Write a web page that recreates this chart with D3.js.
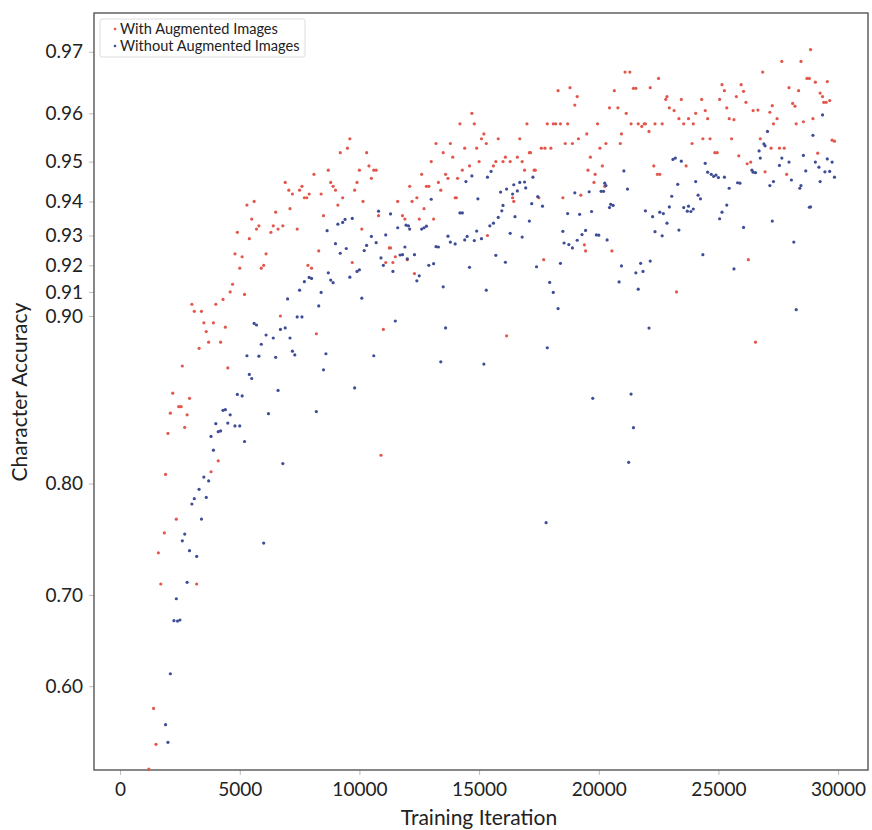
<!DOCTYPE html>
<html>
<head>
<meta charset="utf-8">
<script src="https://cdn.jsdelivr.net/npm/d3@7"></script>
<style>
  body { margin: 0; background: #fff; }
  svg text { font-family: Lato, "Open Sans", sans-serif; fill: #222; }
</style>
</head>
<body>
<svg class="chart" width="872" height="830"></svg>
<script>
// red series: with augmented images
const withIter = [1200,1400,1500,1600,1700,1850,1900,2000,2100,2200,2350,2450,2550,2600,2700,2800,2900,3000,3100,3200,3300,3400,3500,3600,3700,3800,3900,4000,4100,4200,4300,4400,4500,4600,4700,4800,4900,5000,5100,5200,5300,5400,5500,5600,5700,5800,5900,6000,6100,6300,6400,6500,6600,6700,6800,6900,7050,7100,7200,7400,7500,7600,7700,7800,7850,7900,8000,8100,8200,8300,8400,8500,8700,8800,8900,9000,9100,9200,9300,9500,9600,9700,9800,9900,10000,10100,10150,10300,10400,10500,10600,10700,10800,10900,11000,11100,11250,11300,11400,11500,11600,11800,11900,12000,12100,12200,12300,12400,12500,12600,12700,12800,12900,13000,13100,13200,13300,13400,13500,13600,13700,13800,13900,14000,14050,14100,14200,14300,14400,14600,14700,14800,14900,15000,15100,15200,15300,15350,15600,15700,15800,16000,16100,16150,16300,16400,16450,16600,16700,16800,16900,17000,17100,17150,17300,17350,17500,17600,17700,17750,17850,18000,18100,18200,18300,18400,18500,18600,18700,18800,18900,19000,19100,19150,19250,19400,19450,19500,19550,19650,19800,19850,19950,20050,20150,20250,20300,20450,20550,20650,20800,20900,20950,21100,21150,21300,21350,21450,21550,21650,21800,21900,21950,22100,22150,22300,22350,22450,22500,22550,22650,22800,22850,22950,23150,23250,23350,23450,23550,23650,23750,23900,23950,24050,24300,24350,24450,24550,24650,24850,24950,25050,25150,25250,25350,25450,25550,25650,25750,25850,25950,26050,26150,26200,26250,26350,26450,26550,26650,26750,26850,26950,27150,27200,27250,27300,27450,27550,27650,27750,27850,27950,28100,28200,28250,28350,28450,28550,28700,28800,28850,28950,29050,29150,29250,29350,29400,29500,29550,29650,29750,29850];
const withAcc = [.501,.574,.531,.741,.711,.759,.807,.836,.849,.861,.771,.853,.853,.876,.840,.848,.858,.905,.902,.711,.885,.902,.897,.893,.888,.809,.897,.905,.817,.888,.907,.895,.875,.910,.913,.924,.931,.919,.923,.909,.939,.929,.935,.940,.932,.933,.919,.920,.924,.931,.933,.937,.932,.900,.933,.945,.943,.938,.942,.932,.943,.944,.941,.941,.920,.942,.919,.947,.892,.925,.942,.936,.948,.945,.944,.943,.939,.952,.941,.953,.955,.921,.943,.945,.948,.932,.940,.952,.949,.946,.948,.948,.936,.821,.894,.921,.926,.926,.921,.923,.940,.936,.935,.922,.944,.940,.917,.941,.935,.947,.938,.944,.944,.950,.935,.954,.945,.943,.952,.947,.946,.954,.951,.941,.941,.946,.958,.948,.953,.949,.960,.958,.953,.950,.955,.956,.954,.930,.949,.950,.955,.950,.951,.891,.950,.941,.940,.951,.955,.950,.948,.958,.952,.952,.948,.948,.941,.953,.922,.953,.958,.953,.958,.958,.964,.958,.941,.954,.958,.9645,.954,.9615,.963,.955,.9417,.927,.925,.956,.948,.951,.945,.947,.958,.953,.949,.944,.954,.961,.925,.964,.961,.954,.956,.967,.960,.967,.958,.9644,.9644,.958,.9575,.958,.958,.9565,.9645,.949,.958,.947,.966,.947,.958,.9625,.963,.961,.9605,.910,.959,.9625,.958,.949,.959,.954,.958,.960,.9625,.955,.9605,.959,.955,.952,.952,.9625,.965,.964,.961,.959,.955,.9588,.963,.9513,.965,.9639,.962,.9495,.922,.9499,.9605,.888,.9606,.955,.967,.9476,.9602,.953,.9614,.958,.959,.953,.9686,.953,.947,.9645,.9618,.9613,.958,.964,.9686,.9584,.966,.966,.9703,.959,.9654,.9519,.9636,.963,.962,.962,.9655,.9623,.9547,.9545];

// blue series: without augmented images
const withoutIter = [1900,2000,2100,2250,2350,2400,2500,2600,2700,2800,2900,3000,3100,3200,3300,3400,3500,3600,3700,3800,3900,4000,4100,4200,4300,4400,4500,4600,4800,4900,5000,5100,5200,5300,5400,5500,5600,5700,5800,5900,6000,6100,6200,6400,6500,6600,6700,6800,6900,7000,7100,7200,7300,7400,7500,7600,7700,7900,8000,8200,8300,8400,8500,8600,8650,8700,8800,8900,9000,9100,9200,9300,9400,9450,9600,9700,9800,9900,10000,10100,10200,10300,10500,10600,10700,10800,10900,11000,11100,11300,11400,11500,11600,11700,11800,11900,11950,12000,12050,12100,12300,12400,12500,12600,12700,12800,12900,13000,13100,13200,13300,13400,13500,13600,13700,13800,14000,14200,14300,14400,14450,14500,14600,14700,14800,14900,14950,15100,15200,15300,15350,15450,15500,15600,15700,15800,15900,15950,16000,16100,16150,16300,16400,16450,16500,16600,16700,16800,16900,16950,17100,17200,17250,17400,17450,17650,17800,17850,17950,18100,18300,18400,18500,18550,18700,18750,18900,19000,19100,19200,19300,19450,19600,19700,19750,19900,20000,20100,20200,20250,20300,20350,20450,20500,20600,20850,20950,21050,21200,21250,21350,21450,21550,21650,21750,21850,21950,22100,22150,22250,22350,22550,22650,22700,22850,22950,23050,23100,23200,23300,23350,23450,23550,23700,23750,23850,23950,24050,24150,24250,24350,24450,24550,24700,24800,24900,25000,25050,25150,25250,25350,25450,25650,25800,25900,26050,26400,26450,26550,26700,26750,26900,26950,27050,27150,27250,27300,27550,27650,27950,28050,28150,28250,28400,28450,28550,28650,28800,28850,28950,29050,29200,29250,29350,29450,29550,29650,29750,29850];
const withoutAcc = [.5546,.5334,.6144,.6732,.6961,.6728,.6739,.752,.758,.7126,.743,.7837,.788,.7376,.7955,.7711,.805,.789,.802,.834,.8246,.8424,.8372,.8377,.8508,.8512,.8428,.848,.8409,.8603,.8409,.8594,.8306,.8813,.8715,.8693,.8967,.8960,.8811,.887,.7499,.8914,.8487,.8900,.8805,.8626,.8940,.815,.8947,.9072,.8900,.8836,.8817,.8996,.9107,.8996,.914,.9156,.9152,.850,.9043,.9098,.874,.8823,.9315,.9173,.9146,.9136,.9274,.9335,.9242,.934,.9349,.9258,.9157,.9352,.864,.9178,.9184,.9075,.9251,.9268,.9297,.8813,.9277,.9373,.9226,.920,.9302,.9365,.9178,.8978,.9324,.9236,.9237,.9263,.9332,.9223,.933,.932,.9237,.9143,.9162,.932,.9324,.9329,.9200,.9406,.9206,.9264,.9263,.8782,.912,.8947,.9298,.9279,.9273,.9368,.9368,.9286,.9452,.9297,.9193,.9466,.9284,.9314,.9407,.929,.877,.9107,.9463,.933,.9477,.9338,.9235,.9355,.9425,.9374,.9389,.9211,.9433,.9307,.942,.9444,.9357,.9428,.945,.9295,.9451,.9436,.9344,.9394,.9463,.9195,.9413,.9387,.768,.8853,.9137,.9098,.9032,.9207,.9313,.9276,.9366,.9271,.926,.9423,.9285,.9364,.9303,.9316,.9426,.9372,.858,.9302,.9301,.9427,.9427,.9448,.9442,.9286,.9383,.9392,.9389,.9139,.9198,.9478,.9433,.8159,.8605,.8398,.9173,.9111,.9207,.9178,.9374,.8946,.9215,.9357,.9312,.937,.9299,.9366,.9338,.9385,.9414,.9505,.9508,.9445,.9317,.9501,.9383,.9373,.9387,.9372,.9379,.9452,.9417,.9407,.9237,.9496,.9475,.947,.9465,.9468,.9462,.9351,.937,.9463,.939,.9435,.9187,.9449,.9448,.9325,.948,.9475,.9474,.9524,.9508,.9539,.9535,.9565,.9442,.9344,.9452,.9491,.9508,.9499,.9456,.9279,.9027,.9435,.9442,.9514,.9478,.9384,.9385,.9557,.9499,.9487,.9452,.9597,.9476,.9506,.9477,.9499,.9463];

const xTicks = [0, 5000, 10000, 15000, 20000, 25000, 30000];
const yTicks = [0.6, 0.7, 0.8, 0.9, 0.91, 0.92, 0.93, 0.94, 0.95, 0.96, 0.97];
const yTickLabels = ["0.60", "0.70", "0.80", "0.90", "0.91", "0.92", "0.93", "0.94", "0.95", "0.96", "0.97"];
const seriesNames = ["With Augmented Images", "Without Augmented Images"];

const svg = d3.select(".chart");
let leftEdge = 94, rightEdge = 868, topEdge = 13, bottomEdge = 770;

// logit y axis
const logit = (p) => Math.log10(p / (1 - p));

var xScale = d3.scaleLinear().domain([-1090, 31250]).range([leftEdge, rightEdge]);
var yScale = d3.scaleLinear().domain([logit(0.5), logit(0.975)]).range([bottomEdge, topEdge]);
const yPos = (p) => yScale(logit(p));

const colors = ["#e2574c", "#3f4c96"];

// axes
const xAxis = d3.axisBottom(xScale).tickValues(xTicks).tickSize(5).tickPadding(8).tickFormat((d) => d);
svg.append("g")
  .attr("class", "axis x")
  .attr("transform", `translate(0,${bottomEdge})`)
  .call(xAxis);

const yAxis = d3.axisLeft(yScale)
  .tickValues(yTicks.map(logit))
  .tickSize(5)
  .tickPadding(6)
  .tickFormat((d, i) => yTickLabels[i]);
svg.append("g")
  .attr("class", "axis y")
  .attr("transform", `translate(${leftEdge},0)`)
  .call(yAxis);

svg.selectAll(".axis .domain").remove();
svg.selectAll(".axis line").attr("stroke", "#bbb");
svg.selectAll(".axis text").style("font-size", "19px").attr("fill", "#222");

// frame
svg.append("rect")
  .attr("x", leftEdge)
  .attr("y", topEdge)
  .attr("width", rightEdge - leftEdge)
  .attr("height", bottomEdge - topEdge)
  .attr("fill", "none")
  .attr("stroke", "#555")
  .attr("stroke-width", 1.4);

// points
const series = [
  { name: seriesNames[0], iter: withIter, acc: withAcc, color: colors[0] },
  { name: seriesNames[1], iter: withoutIter, acc: withoutAcc, color: colors[1] }
];

series.forEach((s) => {
  const pts = s.iter.map((it, i) => ({ it: it, acc: s.acc[i] }));
  svg.append("g")
    .selectAll("circle")
    .data(pts)
    .enter()
    .append("circle")
    .attr("cx", (d) => xScale(d.it))
    .attr("cy", (d) => yPos(d.acc))
    .attr("r", 1.6)
    .attr("fill", s.color);
});

// axis titles
svg.append("text")
  .attr("x", 479)
  .attr("y", 825)
  .attr("text-anchor", "middle")
  .style("font-size", "21px")
  .text("Training Iteration");

svg.append("text")
  .attr("transform", "rotate(-90)")
  .attr("x", -392)
  .attr("y", 27)
  .attr("text-anchor", "middle")
  .style("font-size", "21px")
  .text("Character Accuracy");

// legend
const legend = svg.append("g").attr("transform", "translate(100,19)");
legend.append("rect")
  .attr("width", 205)
  .attr("height", 38)
  .attr("rx", 2)
  .attr("fill", "#fff")
  .attr("stroke", "#ddd");

series.forEach((s, i) => {
  legend.append("circle")
    .attr("cx", 15)
    .attr("cy", 10 + i * 17)
    .attr("r", 1.3)
    .attr("fill", s.color);
  legend.append("text")
    .attr("x", 20)
    .attr("y", 10 + i * 17)
    .attr("dy", "0.35em")
    .style("font-size", "14.6px")
    .text(s.name);
});
</script>
</body>
</html>
